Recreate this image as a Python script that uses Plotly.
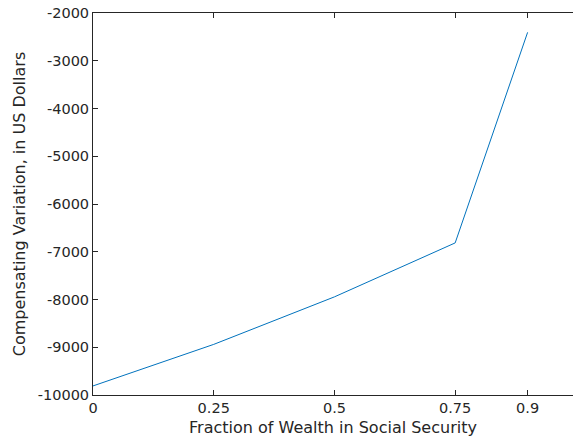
import plotly.graph_objects as go

# Fraction of wealth held in social security vs. compensating variation
fraction = [0, 0.25, 0.5, 0.75, 0.9]
comp_variation = [-9810, -8940, -7945, -6815, -2405]

x_ticks = [0, 0.25, 0.5, 0.75, 0.9]
x_labels = ["0", "0.25", "0.5", "0.75", "0.9"]
y_ticks = list(range(-10000, -1000, 1000))
y_labels = [str(v) for v in y_ticks]

axis_color = "#262626"
y_range = [-10000, -2000]

fig = go.Figure()
fig.add_trace(go.Scatter(
    x=fraction,
    y=comp_variation,
    mode="lines",
    line=dict(color="#0072BD", width=1),
    showlegend=False,
))

fig.update_layout(
    width=573,
    height=444,
    margin=dict(l=93, r=0, t=13, b=49),
    plot_bgcolor="white",
    paper_bgcolor="white",
    font=dict(family="DejaVu Sans", size=14.5, color=axis_color),
    xaxis=dict(
        range=[0, 0.994],
        tickvals=x_ticks,
        ticktext=x_labels,
        ticks="inside",
        ticklen=5,
        tickcolor=axis_color,
        showline=True,
        linecolor=axis_color,
        linewidth=1,
        mirror="ticks",
        showgrid=False,
        zeroline=False,
        title=dict(text="Fraction of Wealth in Social Security", font=dict(size=16), standoff=6),
    ),
    yaxis=dict(
        range=y_range,
        tickvals=y_ticks,
        ticktext=y_labels,
        ticks="inside",
        ticklen=5,
        tickcolor=axis_color,
        showline=True,
        linecolor=axis_color,
        linewidth=1,
        showgrid=False,
        zeroline=False,
        title=dict(text="Compensating Variation, in US Dollars", font=dict(size=16), standoff=8),
    ),
    # right-hand tick marks only (the right frame edge is cut off in the original)
    yaxis2=dict(
        overlaying="y",
        side="right",
        range=y_range,
        tickvals=y_ticks,
        ticks="inside",
        ticklen=5,
        tickcolor=axis_color,
        showticklabels=False,
        showline=False,
        showgrid=False,
        zeroline=False,
    ),
)

fig.write_html(
    "out.html",
    config={"displayModeBar": False},
    post_script="document.body.style.margin='0';document.body.style.overflow='hidden';",
)
